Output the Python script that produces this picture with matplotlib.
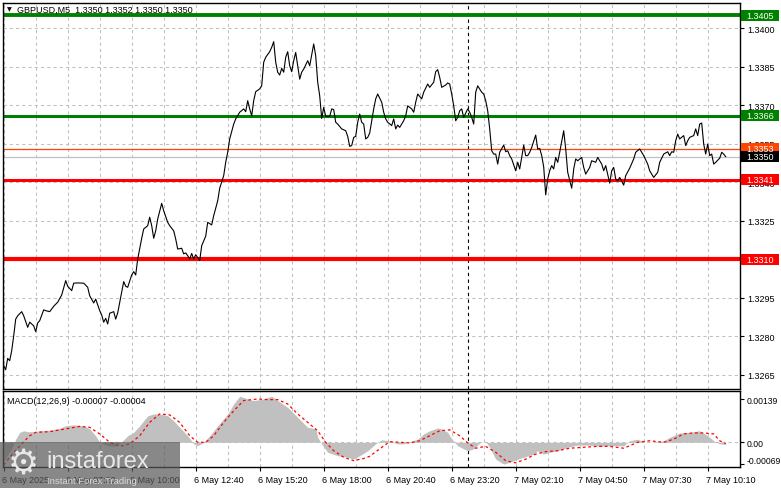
import matplotlib
matplotlib.use("Agg")
import matplotlib.pyplot as plt
from matplotlib.patches import Rectangle
import matplotlib.transforms as mtransforms

# GBPUSD M5 close line (bar index, price)
bars = [0, 1, 2, 3, 4, 5, 6, 7, 9, 10, 12, 13, 15, 16, 17, 18, 20, 21, 23, 25,
        27, 29, 31, 32, 34, 35, 37, 40, 42, 43, 45, 46, 48, 49, 50, 51, 52, 53, 55, 56,
        57, 59, 60, 61, 62, 64, 65, 66, 67, 69, 70, 72, 73, 74, 75, 76, 77, 79, 80, 82,
        83, 85, 86, 87, 89, 90, 91, 92, 93, 94, 95, 96, 98, 99, 101, 102, 104, 105, 107, 108,
        110, 111, 112, 113, 115, 116, 118, 120, 121, 122, 123, 124, 125, 126, 128, 129, 130, 131, 133, 134,
        135, 136, 137, 138, 139, 140, 141, 142, 143, 144, 145, 146, 147, 148, 149, 150, 152, 153, 154, 155,
        156, 157, 158, 159, 160, 161, 162, 163, 164, 165, 166, 167, 169, 171, 172, 173, 174, 175, 176, 177,
        178, 179, 180, 181, 182, 183, 185, 186, 187, 189, 190, 191, 192, 194, 195, 196, 197, 198, 200, 201,
        202, 204, 205, 206, 207, 209, 210, 212, 213, 215, 216, 217, 218, 219, 221, 222, 223, 224, 225, 226,
        227, 228, 229, 230, 232, 233, 234, 235, 236, 237, 239, 240, 241, 242, 243, 244, 245, 246, 247, 248,
        250, 251, 252, 253, 254, 256, 257, 258, 259, 260, 261, 262, 263, 264, 266, 267, 268, 269, 270, 271,
        272, 273, 274, 275, 276, 277, 278, 280, 281, 282, 284, 285, 286, 287, 289, 290, 291, 293, 294, 296,
        297, 299, 300, 301, 303, 304, 305, 306, 307, 308, 310, 311, 313, 315, 316, 318, 320, 322, 323, 325,
        327, 328, 330, 332, 333, 334, 335, 336, 337, 338, 340, 341, 342, 343, 345, 346, 347, 348, 349, 350,
        351, 352, 353, 354, 355, 356, 358, 359, 360, 361]
prices = [1.32686, 1.32670, 1.32714, 1.32705, 1.32744, 1.32802, 1.32867, 1.32880, 1.32896, 1.32880,
          1.32835, 1.32855, 1.32841, 1.32818, 1.32852, 1.32861, 1.32903, 1.32900, 1.32896, 1.32917,
          1.32933, 1.32961, 1.33017, 1.32995, 1.32978, 1.33007, 1.33008, 1.33007, 1.32991, 1.32958,
          1.32930, 1.32945, 1.32900, 1.32883, 1.32855, 1.32870, 1.32848, 1.32890, 1.32896, 1.32867,
          1.32891, 1.32971, 1.33013, 1.32995, 1.32991, 1.33039, 1.33052, 1.33039, 1.33101, 1.33182,
          1.33218, 1.33231, 1.33264, 1.33231, 1.33182, 1.33211, 1.33257, 1.33318, 1.33289, 1.33244,
          1.33231, 1.33211, 1.33179, 1.33140, 1.33143, 1.33121, 1.33125, 1.33114, 1.33101, 1.33123,
          1.33101, 1.33118, 1.33095, 1.33153, 1.33190, 1.33244, 1.33234, 1.33270, 1.33328, 1.33377,
          1.33426, 1.33478, 1.33517, 1.33569, 1.33627, 1.33647, 1.33673, 1.33686, 1.33675, 1.33718,
          1.33686, 1.33659, 1.33718, 1.33753, 1.33764, 1.33776, 1.33868, 1.33887, 1.33909, 1.33926,
          1.33948, 1.33868, 1.33829, 1.33818, 1.33844, 1.33829, 1.33887, 1.33909, 1.33854, 1.33831,
          1.33874, 1.33906, 1.33854, 1.33802, 1.33829, 1.33841, 1.33874, 1.33854, 1.33896, 1.33939,
          1.33893, 1.33790, 1.33737, 1.33649, 1.33692, 1.33657, 1.33657, 1.33657, 1.33686, 1.33683,
          1.33634, 1.33627, 1.33608, 1.33601, 1.33579, 1.33540, 1.33543, 1.33575, 1.33579, 1.33634,
          1.33666, 1.33634, 1.33627, 1.33569, 1.33575, 1.33592, 1.33686, 1.33725, 1.33744, 1.33712,
          1.33673, 1.33647, 1.33634, 1.33621, 1.33647, 1.33608, 1.33623, 1.33614, 1.33640, 1.33659,
          1.33698, 1.33686, 1.33673, 1.33712, 1.33744, 1.33725, 1.33751, 1.33783, 1.33770, 1.33790,
          1.33831, 1.33839, 1.33809, 1.33770, 1.33779, 1.33787, 1.33783, 1.33744, 1.33698, 1.33640,
          1.33653, 1.33679, 1.33686, 1.33653, 1.33686, 1.33673, 1.33653, 1.33627, 1.33751, 1.33776,
          1.33751, 1.33744, 1.33718, 1.33679, 1.33608, 1.33523, 1.33510, 1.33510, 1.33471, 1.33517,
          1.33545, 1.33519, 1.33523, 1.33504, 1.33491, 1.33445, 1.33478, 1.33452, 1.33497, 1.33545,
          1.33504, 1.33504, 1.33517, 1.33536, 1.33584, 1.33530, 1.33532, 1.33504, 1.33460, 1.33351,
          1.33413, 1.33445, 1.33465, 1.33452, 1.33497, 1.33478, 1.33517, 1.33601, 1.33530, 1.33439,
          1.33377, 1.33452, 1.33491, 1.33484, 1.33497, 1.33458, 1.33432, 1.33458, 1.33484, 1.33478,
          1.33497, 1.33471, 1.33445, 1.33465, 1.33397, 1.33445, 1.33458, 1.33413, 1.33406, 1.33419,
          1.33389, 1.33426, 1.33455, 1.33491, 1.33517, 1.33530, 1.33504, 1.33471, 1.33445, 1.33419,
          1.33439, 1.33478, 1.33510, 1.33519, 1.33504, 1.33519, 1.33517, 1.33562, 1.33588, 1.33569,
          1.33582, 1.33543, 1.33562, 1.33575, 1.33582, 1.33608, 1.33582, 1.33627, 1.33631, 1.33549,
          1.33510, 1.33549, 1.33504, 1.33510, 1.33471, 1.33478, 1.33494, 1.33517, 1.33510, 1.33500]

# MACD histogram and signal line
hist_bars = [0, 4, 6, 8, 10, 12, 15, 18, 23, 28, 31, 35, 40, 43, 46, 48, 52, 55, 58, 62,
             65, 68, 72, 75, 78, 82, 85, 88, 92, 95, 97, 100, 103, 107, 112, 115, 118, 122, 125, 130,
             134, 137, 142, 147, 152, 156, 157, 159, 162, 167, 172, 175, 178, 182, 186, 189, 192, 197, 200, 203,
             207, 210, 213, 217, 219, 222, 224, 227, 230, 232, 235, 238, 241, 243, 246, 250, 253, 257, 260, 265,
             267, 270, 273, 277, 282, 287, 293, 298, 303, 310, 313, 317, 320, 325, 330, 333, 338, 343, 348, 352,
             355, 358, 361]
hist_vals = [-0.0006, -0.0002, 0.0001, 0.00032, 0.00037, 0.00034, 0.00034, 0.00037, 0.00039, 0.00045,
             0.00053, 0.00056, 0.00053, 0.00043, 0.00021, 0.0, -0.00011, -0.00013, -0.00005, 0.00021,
             0.00032, 0.00053, 0.00085, 0.00091, 0.00091, 0.00085, 0.00069, 0.00048, 0.00021, -0.00005,
             -0.00011, 0.0, 0.00021, 0.00053, 0.00091, 0.00123, 0.00148, 0.00139, 0.00134, 0.00139,
             0.00148, 0.00134, 0.00112, 0.00080, 0.00048, 0.00043, 0.00016, -0.00005, -0.00032, -0.00043,
             -0.00048, -0.00054, -0.00043, -0.00027, -0.00005, 0.00008, 0.00005, -0.00005, -0.00005, 0.00002,
             0.0001, 0.00027, 0.00037, 0.00046, 0.00043, 0.00032, 0.00011, -0.00011, -0.00021, -0.00027,
             -0.00021, -0.00002, 0.00002, -0.00016, -0.00054, -0.0007, -0.00064, -0.00054, -0.00048, -0.00038,
             -0.00027, -0.00038, -0.00032, -0.00027, -0.00016, -0.00009, -0.00009, -0.00013, -0.00011, -0.00011,
             0.00005, 0.0001, 0.0, 0.0, 0.00005, 0.00016, 0.0003, 0.00032, 0.00037, 0.00021,
             0.00005, -0.00005, -0.00007]
sig_bars = [0, 3, 9, 13, 16, 23, 31, 38, 43, 48, 53, 58, 63, 68, 73, 78, 83, 88, 93, 97,
            101, 105, 110, 115, 120, 127, 132, 137, 142, 147, 152, 157, 161, 165, 170, 175, 180, 183, 188, 193,
            198, 203, 208, 213, 218, 223, 228, 232, 236, 241, 246, 251, 256, 261, 266, 271, 277, 283, 290, 297,
            303, 310, 317, 323, 330, 335, 340, 345, 350, 355, 358, 361]
sig_vals = [-0.00072, -0.00048, -0.00005, 0.00021, 0.00032, 0.00034, 0.00043, 0.00051, 0.00048, 0.00027,
            0.0, -0.00013, -0.00005, 0.00021, 0.00064, 0.00091, 0.00088, 0.00064, 0.00021, 0.0,
            0.0, 0.00021, 0.00064, 0.00101, 0.00134, 0.00139, 0.00137, 0.00137, 0.00123, 0.00091,
            0.00064, 0.00037, 0.0, -0.00027, -0.00048, -0.00059, -0.00052, -0.00045, -0.00021, 0.00002,
            0.0, -0.00002, 0.00005, 0.00021, 0.00037, 0.0004, 0.00021, -0.00002, -0.00019, -0.00013,
            -0.00032, -0.00059, -0.00066, -0.00054, -0.00038, -0.0003, -0.00027, -0.00019, -0.00016, -0.00013,
            -0.00013, -0.00019, 0.0, 0.00005, 0.0, 0.0001, 0.00027, 0.0003, 0.0003, 0.00027,
            0.00005, -0.00004]

# axis labels
price_ticks = [1.3265, 1.3280, 1.3295, 1.3310, 1.3325, 1.3340, 1.3355, 1.3370, 1.3385, 1.3400]
time_ticks = list(range(0, 353, 32))
time_labels = ["6 May 2025", "6 May 07:20", "6 May 10:00", "6 May 12:40", "6 May 15:20",
               "6 May 18:00", "6 May 20:40", "6 May 23:20", "7 May 02:10", "7 May 04:50",
               "7 May 07:30", "7 May 10:10"]
day_break = 232

# horizontal levels: value, colour, width in pt, label
levels = [(1.3405, "#008000", 2.8, "1.3405"),
          (1.3366, "#008000", 2.2, "1.3366"),
          (1.3341, "#FF0000", 2.2, "1.3341"),
          (1.3310, "#FF0000", 3.0, "1.3310"),
          (1.3353, "#FF4500", 0.9, "1.3353")]
bid = 1.3350

W, H = 781, 489
plt.rcParams['font.family'] = ['Liberation Sans', 'DejaVu Sans']
fig = plt.figure(figsize=(W / 100, H / 100), dpi=100)
fs = 6.5


def rect(x0, y0, x1, y1):
    return [x0 / W, 1 - y1 / H, (x1 - x0) / W, (y1 - y0) / H]


ax = fig.add_axes(rect(3, 4, 740, 390))
axm = fig.add_axes(rect(3, 392, 740, 468))

grid_kw = dict(color="#C0C0C0", lw=0.75, ls=(0, (3, 3)), zorder=0)
for a in (ax, axm):
    a.set_xlim(-0.35, 368.15)
    for b in range(0, 368, 16):
        a.axvline(b, **grid_kw)
    a.axvline(day_break, color="black", lw=0.8, ls=(0, (3, 3)), zorder=1)
    for s in a.spines.values():
        s.set_color("black")
        s.set_linewidth(1)
    a.yaxis.tick_right()
    a.tick_params(axis="y", direction="out", length=3, width=0.8, labelsize=fs, pad=2)

# main price panel
ymin, ymax = 1.325947, 1.340986
ax.set_ylim(ymin, ymax)
for p in price_ticks:
    ax.axhline(p, **grid_kw)
ax.set_yticks(price_ticks)
ax.set_yticklabels([f"{p:.4f}" for p in price_ticks])
ax.set_xticks([])
ax.axhline(bid, color="#C0C0C0", lw=0.9, zorder=1)
for val, col, lw, lbl in levels:
    ax.axhline(val, color=col, lw=lw, zorder=2)
ax.plot(bars, prices, color="black", lw=0.8, zorder=3)

# price tags on the right scale (about 38 x 11 px)
trans = mtransforms.blended_transform_factory(ax.transAxes, ax.transData)
box_w = 38 / 737
box_h = 11 * (ymax - ymin) / 386
for val, col, lw, lbl in levels + [(bid, "black", 0, "1.3350")]:
    ax.add_patch(Rectangle((1.0015, val - box_h / 2), box_w, box_h, transform=trans,
                           fc=col, ec="none", clip_on=False, zorder=5))
    ax.text(1.0015 + box_w / 2, val, lbl, transform=trans, ha="center", va="center",
            fontsize=fs, color="white", clip_on=False, zorder=6)

# MACD panel
axm.set_ylim(-0.000793, 0.001647)
axm.axhline(0, color="#C0C0C0", lw=0.75, ls=(0, (3, 3)), zorder=0)
axm.fill_between(hist_bars, hist_vals, 0, color="#C0C0C0", lw=0, zorder=1)
axm.plot(sig_bars, sig_vals, color="red", lw=0.9, ls=(0, (2.2, 2.2)), zorder=2)
axm.set_yticks([0.00139, 0.0, -0.00069])
axm.set_yticklabels(["0.00139", "0.00", "-0.00069"])
axm.tick_params(axis="y", labelsize=6.2)
up = mtransforms.ScaledTranslation(0, 4 / 100, fig.dpi_scale_trans)
last = axm.get_yticklabels()[-1]
last.set_transform(last.get_transform() + up)
axm.set_xticks(time_ticks)
axm.set_xticklabels(time_labels, fontsize=fs, ha="left")
axm.tick_params(axis="x", direction="out", length=3, width=0.8, pad=3)
offset = mtransforms.ScaledTranslation(-1.5 / 100, 0, fig.dpi_scale_trans)
for lbl in axm.get_xticklabels():
    lbl.set_transform(lbl.get_transform() + offset)

# header texts
fig.text(7 / W, 1 - 10 / H, "\u25bc", fontsize=4.5, va="center", ha="left", color="black",
         family="DejaVu Sans")
fig.text(17 / W, 1 - 10 / H, "GBPUSD,M5  1.3350 1.3352 1.3350 1.3350", fontsize=fs,
         va="center", ha="left", color="black")
fig.text(7 / W, 1 - 402 / H, "MACD(12,26,9) -0.00007 -0.00004", fontsize=fs,
         va="center", ha="left", color="black")

# watermark
fig.add_artist(Rectangle((0, 0), 180 / W, 46 / H, transform=fig.transFigure,
                         fc="#5a5a5a", ec="none", alpha=0.72, zorder=10))
fig.text(23 / W, 1 - 465 / H, "\u2699", fontsize=25, color="#e8e8e8", ha="center",
         va="center", zorder=11, family="DejaVu Sans")
fig.text(46 / W, 1 - 462 / H, "instaforex", fontsize=17, color="#e8e8e8", ha="left",
         va="center", zorder=11)
fig.text(47 / W, 1 - 482 / H, "Instant Forex Trading", fontsize=6.8, color="#d8d8d8",
         ha="left", va="center", zorder=11)

fig.savefig("out.png", dpi=100)
